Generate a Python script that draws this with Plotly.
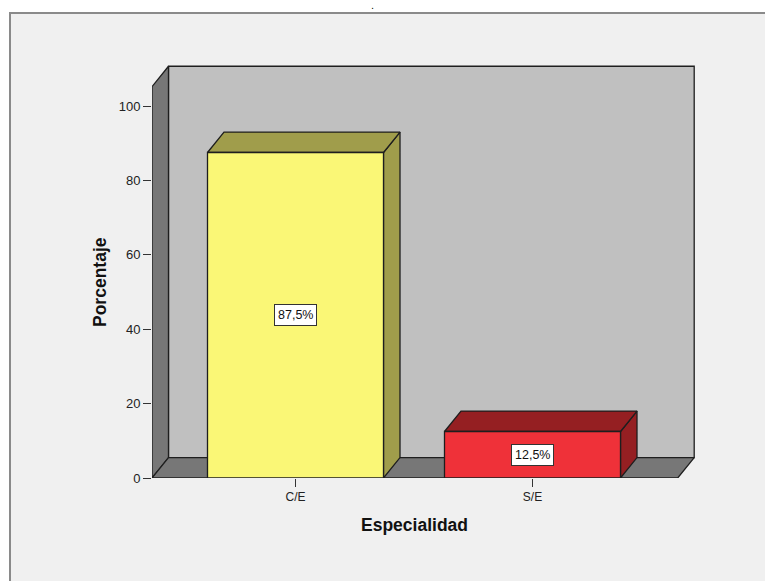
import plotly.graph_objects as go

# ---- data ----
categories = ["C/E", "S/E"]
percentages = [87.5, 12.5]
y_ticks = [0, 20, 40, 60, 80, 100]

# ---- styling ----
front_colors = ["#FAF776", "#EF3139"]
dark_colors = ["#A09D4B", "#951F22"]
WALL_BACK = "#C0C0C0"
WALL_SIDE = "#777777"
EDGE = "#1e1e1e"
FONT = "Liberation Sans, Arial, sans-serif"

W, H = 765, 581
L, R, T, B = 152, 705, 55, 478          # plot area in pixels
PX_PER_X = 237.0                          # pixels per category step
X0_PX = 295.5                             # pixel of first category
PX_PER_Y = 3.72                           # pixels per percentage unit

x_range = [(L - X0_PX) / PX_PER_X, (R - X0_PX) / PX_PER_X]
y_range = [0, (B - T) / PX_PER_Y]

DX = 16.5 / PX_PER_X      # depth offset (x, data units)
DY = 20.4 / PX_PER_Y      # depth offset (y, data units)
BAR_W = 176 / PX_PER_X
XL = x_range[0]
XR = (677.7 - X0_PX) / PX_PER_X
YMAX = 105.2

def px2paper_x(px):
    return (px - L) / (R - L)

def px2paper_y(py):
    return (B - py) / (B - T)

fig = go.Figure()

def poly(xs, ys, fill):
    fig.add_trace(go.Scatter(
        x=xs + [xs[0]], y=ys + [ys[0]], mode="lines", fill="toself",
        fillcolor=fill, line=dict(color=EDGE, width=1.3),
        hoverinfo="skip", showlegend=False))

# back wall
poly([XL + DX, XR + DX, XR + DX, XL + DX], [DY, DY, YMAX + DY, YMAX + DY], WALL_BACK)
# side wall
poly([XL, XL, XL + DX, XL + DX], [0, YMAX, YMAX + DY, DY], WALL_SIDE)
# floor
poly([XL, XR, XR + DX, XL + DX], [0, 0, DY, DY], WALL_SIDE)

# bars
for i, (cat, v) in enumerate(zip(categories, percentages)):
    x1, x2 = i - BAR_W / 2, i + BAR_W / 2
    # side
    poly([x2, x2, x2 + DX, x2 + DX], [0, v, v + DY, DY], dark_colors[i])
    # top
    poly([x1, x2, x2 + DX, x1 + DX], [v, v, v + DY, v + DY], dark_colors[i])
    # front
    poly([x1, x2, x2, x1], [0, 0, v, v], front_colors[i])

annotations = []
for i, v in enumerate(percentages):
    annotations.append(dict(
        x=i, y=v / 2, xref="x", yref="y",
        xanchor="center", yanchor="middle",
        text=(f"{v:.1f}".replace(".", ",") + "%"), showarrow=False,
        bgcolor="white", bordercolor="#333333", borderwidth=1, borderpad=3,
        font=dict(family=FONT, size=12.5, color="#111111")))

annotations.append(dict(
    x=px2paper_x(414.5), y=px2paper_y(525), xref="paper", yref="paper",
    xanchor="center", yanchor="middle",
    text="<b>Especialidad</b>", showarrow=False,
    font=dict(family=FONT, size=17.5, color="#111111")))
annotations.append(dict(
    x=px2paper_x(100), y=px2paper_y(282), xref="paper", yref="paper",
    xanchor="center", yanchor="middle",
    text="<b>Porcentaje</b>", showarrow=False, textangle=-90,
    font=dict(family=FONT, size=17.5, color="#111111")))
annotations.append(dict(
    x=px2paper_x(372), y=px2paper_y(5), xref="paper", yref="paper",
    xanchor="center", yanchor="middle",
    text=".", showarrow=False,
    font=dict(family=FONT, size=11, color="#111111")))

shapes = [dict(
    type="rect", xref="paper", yref="paper", layer="below",
    x0=px2paper_x(10), x1=px2paper_x(780),
    y0=px2paper_y(600), y1=px2paper_y(13),
    fillcolor="#F0F0F0", line=dict(color="#8a8a8a", width=2))]

fig.update_layout(
    width=W, height=H,
    margin=dict(l=L, r=W - R, t=T, b=H - B, pad=0),
    paper_bgcolor="white", plot_bgcolor="rgba(0,0,0,0)",
    showlegend=False,
    shapes=shapes, annotations=annotations,
    font=dict(family=FONT, size=13, color="#222222"),
    xaxis=dict(range=x_range, tickvals=list(range(len(categories))),
               ticktext=categories, ticks="outside", ticklen=8,
               tickcolor="#333333", tickwidth=1.3,
               showgrid=False, zeroline=False, showline=False,
               tickfont=dict(family=FONT, size=12, color="#222222"),
               fixedrange=True),
    yaxis=dict(range=y_range, tickvals=y_ticks, ticks="outside", ticklen=8,
               tickcolor="#333333", tickwidth=1.3,
               showgrid=False, zeroline=False, showline=False,
               tickfont=dict(family=FONT, size=13, color="#222222"),
               fixedrange=True),
)

fig.write_html("out.html")
